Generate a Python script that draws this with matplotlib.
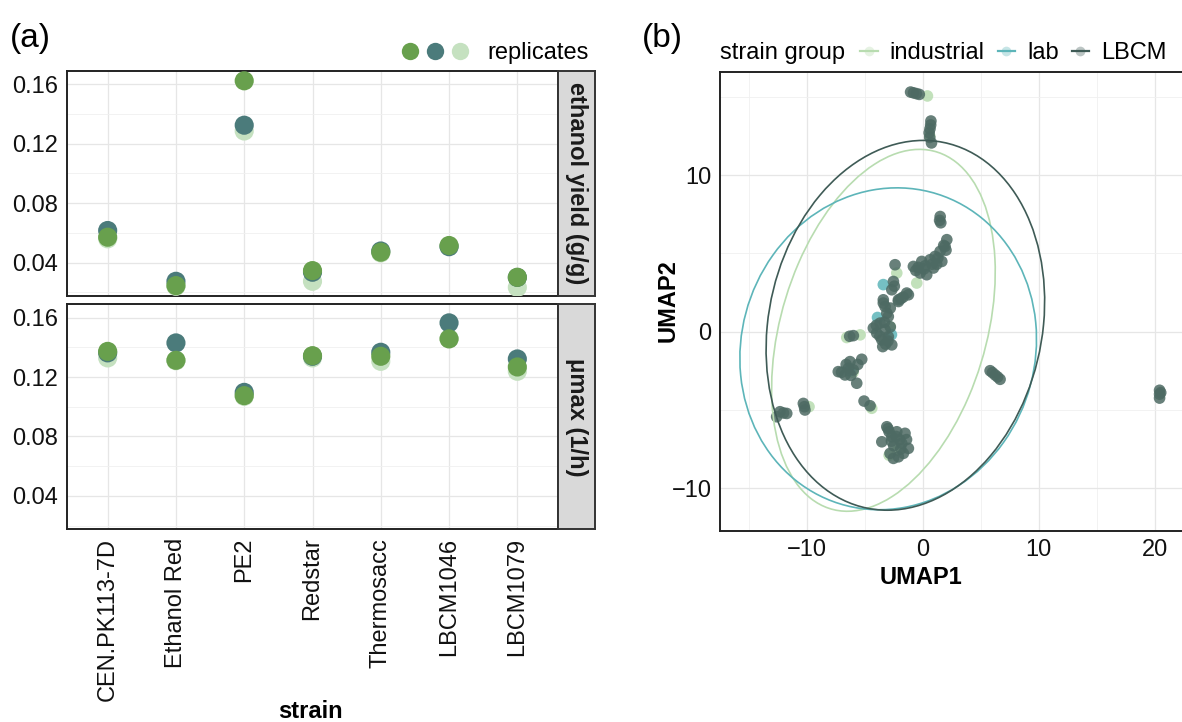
import numpy as np
import matplotlib
matplotlib.use('Agg')
import matplotlib.pyplot as plt
from matplotlib.patches import Ellipse
from matplotlib.lines import Line2D
from matplotlib.ticker import FixedLocator, FormatStrFormatter

plt.rcParams['font.family'] = ['Liberation Sans', 'DejaVu Sans']
plt.rcParams['font.size'] = 17

# ---- panel (a) data ----
strains = ['CEN.PK113-7D', 'Ethanol Red', 'PE2', 'Redstar', 'Thermosacc',
           'LBCM1046', 'LBCM1079']
yield_rep1 = [0.0571, 0.0245, 0.1624, 0.0346, 0.0470, 0.0515, 0.0301]
yield_rep2 = [0.0616, 0.0274, 0.1325, 0.0335, 0.0478, 0.0507, 0.0300]
yield_rep3 = [0.0560, 0.0240, 0.1286, 0.0274, 0.0465, 0.0510, 0.0233]
mumax_rep1 = [0.1373, 0.1313, 0.1075, 0.1344, 0.1340, 0.1457, 0.1268]
mumax_rep2 = [0.1363, 0.1430, 0.1097, 0.1340, 0.1367, 0.1565, 0.1322]
mumax_rep3 = [0.1329, 0.1310, 0.1070, 0.1329, 0.1306, 0.1460, 0.1239]
facet_labels = ['ethanol yield (g/g)', 'μmax (1/h)']
rep_colors = ['#68a04d', '#4b7b7b', '#c5e1c0']

# ---- panel (b) data ----
lbcm_x = [-1.05, -0.8, -0.55, -0.3, 0.7, 0.68, 0.62, 0.55, 0.6, 0.75,
          1.5, 1.45, 1.55, 2.07, 1.92, 2.0, 1.49, 1.06, 0.63, 1.64, 0.92,
          -0.09, -0.81, -0.23, 0.34, -0.4, 0.1, 1.2, 1.8, 1.3, 0.8, 0.2,
          -0.6, -2.39, -2.53, -2.67, -2.45, -1.38, -2.1, -3.4, -3.25, -1.7,
          -3.4, -3.1, -2.1, -1.24, -2.8, -1.9,
          -4.26, -3.68, -3.25, -2.97, -3.53, -2.67, -3.45, -3.97, -2.97,
          -3.3, -4.0, -3.0, -3.7, -2.8, -3.2, -5.98, -6.3,
          -7.28, -6.7, -6.27, -5.98, -5.26, -5.69, -6.41, -6.2, -6.6, -7.0,
          -5.6, -5.06, -4.54, 5.8, 6.0, 6.23, 6.45, 6.66, 20.4, 20.4,
          20.4, 20.5, -12.3, -11.72, -12.59, -12.0, -10.29, -10.15, -10.2,
          -3.1, -2.24, -1.53, -2.67, -3.53, -1.81, -1.24, -2.82, -2.1, -2.53,
          -1.67, -2.9, -2.0, -2.5, -1.4, -3.0, -2.3, -1.9, -2.7]
lbcm_y = [15.3, 15.25, 15.2, 15.15, 13.45, 13.2, 12.95, 12.7, 12.4, 12.05,
          7.35, 7.1, 6.95, 5.87, 5.44, 5.2, 5.12, 4.8, 4.59, 4.48, 4.06,
          4.48, 4.16, 3.74, 3.63, 4.1, 4.0, 4.3, 5.5, 4.7, 4.3, 4.2,
          3.9, 4.27, 3.2, 2.67, 2.9, 2.46, 2.03, 2.03, 1.6, 2.2,
          1.82, 1.18, 1.92, 2.35, 1.5, 2.1,
          0.22, 0.54, 0.11, -0.32, -0.53, -0.85, -0.96, -0.1, 0.96,
          0.6, 0.4, -0.6, -0.3, 0.3, -0.8, -0.26, -0.3,
          -2.56, -2.77, -1.92, -2.45, -1.77, -3.3, -2.34, -2.8, -2.1, -2.6,
          -2.1, -4.44, -4.74, -2.5, -2.62, -2.77, -2.9, -3.05, -3.75, -4.0,
          -4.25, -3.9, -5.12, -5.23, -5.44, -5.2, -4.59, -5.01, -4.8,
          -6.08, -6.4, -6.5, -6.72, -7.04, -7.14, -7.46, -7.78, -8.0, -8.1,
          -7.78, -6.4, -6.9, -7.3, -6.9, -6.2, -6.7, -7.5, -7.0]
ind_x = [0.4, 0.6, -2.24, -0.52, -6.55, -5.4, -4.4, -9.8, -2.8, -6.0,
         -2.2, -2.9]
ind_y = [15.05, 12.5, 3.74, 3.1, -0.38, -0.21, -4.9, -4.8, 0.3, -2.6,
         -7.6, -7.9]
lab_x = [-3.9, -6.3, -2.7, -3.4]
lab_y = [0.9, -2.5, -0.2, 3.0]

groups = ['industrial', 'lab', 'LBCM']
group_colors = ['#b8dcb0', '#5db5b9', '#3f5b56']
point_colors = ['#b8dcb0', '#5db5b9', '#4d6a63']
ell_cx = [-3.39, -2.98, -1.5]
ell_cy = [0.08, -1.1, 0.4]
ell_a = [12.43, 12.82, 12.66]
ell_b = [8.48, 10.23, 11.1]
ell_angle = [59.8, 7.6, 41.5]

W, H = 1182, 722
fig = plt.figure(figsize=(W / 100, H / 100), dpi=100)


def box(l, t, r, b):
    return [l / W, 1 - b / H, (r - l) / W, (b - t) / H]


def style_axes(ax):
    ax.set_facecolor('white')
    ax.tick_params(which='both', length=0, pad=6, colors='#111111',
                   labelsize=17)
    ax.grid(True, which='major', color='#e6e6e6', lw=0.9)
    ax.grid(True, which='minor', color='#f0f0f0', lw=0.6)
    ax.set_axisbelow(True)
    for s in ax.spines.values():
        s.set_color('#222222')
        s.set_linewidth(1.4)


# ---- panel (a) ----
facets = [(yield_rep1, yield_rep2, yield_rep3),
          (mumax_rep1, mumax_rep2, mumax_rep3)]
rows = [(71, 296), (304.3, 529.3)]
x = np.arange(len(strains))
for i, ((r1, r2, r3), (t, b)) in enumerate(zip(facets, rows)):
    ax = fig.add_axes(box(66.7, t, 558.3, b))
    style_axes(ax)
    for vals, c in zip([r3, r2, r1], rep_colors[::-1]):
        ax.scatter(x, vals, s=190, color=c, edgecolors='none', zorder=3)
    ax.set_xlim(-0.6, 6.6)
    ax.set_ylim(0.0175, 0.169)
    ax.yaxis.set_major_locator(FixedLocator([0.04, 0.08, 0.12, 0.16]))
    ax.yaxis.set_minor_locator(FixedLocator([0.02, 0.06, 0.10, 0.14]))
    ax.yaxis.set_major_formatter(FormatStrFormatter('%.2f'))
    ax.set_xticks(x)
    if i == 1:
        ax.set_xticklabels(strains, rotation=90)
    else:
        ax.set_xticklabels([])
    # facet strip
    sax = fig.add_axes(box(558.3, t, 595, b))
    sax.set_facecolor('#d9d9d9')
    sax.set_xticks([])
    sax.set_yticks([])
    for s in sax.spines.values():
        s.set_color('#333333')
        s.set_linewidth(1.4)
    sax.text(0.5, 0.5, facet_labels[i], rotation=270, ha='center',
             va='center', fontsize=17, fontweight='bold', color='#1a1a1a',
             transform=sax.transAxes)

fig.text(310 / W, 1 - 711 / H, 'strain', ha='center', va='center',
         fontweight='bold', fontsize=17)
rep_handles = [Line2D([], [], ls='none', marker='o', markersize=12.5,
                      markerfacecolor=c, markeredgecolor='none')
               for c in rep_colors]
fig.legend(rep_handles, ['', '', ''], ncol=3, frameon=False,
           handlelength=0.8, handletextpad=0, columnspacing=0.25,
           borderpad=0, borderaxespad=0, loc='center left',
           bbox_to_anchor=(401 / W, 1 - 53 / H))
fig.text(487 / W, 1 - 53 / H, 'replicates', ha='left', va='center',
         fontsize=17)
fig.text(10 / W, 1 - 38 / H, '(a)', ha='left', va='center', fontsize=24)

# ---- panel (b) ----
bx = fig.add_axes(box(720, 71.7, 1206, 530.7))
style_axes(bx)
bx.spines['right'].set_visible(False)
pts = [(ind_x, ind_y), (lab_x, lab_y), (lbcm_x, lbcm_y)]
for (px, py), c in zip(pts, point_colors):
    bx.scatter(px, py, s=70, color=c, alpha=0.85, edgecolors='none',
               zorder=3)
for k in range(3):
    bx.add_patch(Ellipse((ell_cx[k], ell_cy[k]), 2 * ell_a[k], 2 * ell_b[k],
                         angle=ell_angle[k], fill=False,
                         edgecolor=group_colors[k], lw=1.2, zorder=4))
bx.set_xlim(-17.47, 24.4)
bx.set_ylim(-12.72, 16.6)
bx.xaxis.set_major_locator(FixedLocator([-10, 0, 10, 20]))
bx.xaxis.set_minor_locator(FixedLocator([-15, -5, 5, 15]))
bx.yaxis.set_major_locator(FixedLocator([-10, 0, 10]))
bx.yaxis.set_minor_locator(FixedLocator([-5, 5, 15]))

fig.text(668 / W, 1 - 301 / H, 'UMAP2', rotation=90, ha='center',
         va='center', fontweight='bold', fontsize=17)
fig.text(921 / W, 1 - 577 / H, 'UMAP1', ha='center', va='center',
         fontweight='bold', fontsize=17)
fig.text(642 / W, 1 - 38 / H, '(b)', ha='left', va='center', fontsize=24)

fig.text(720 / W, 1 - 53 / H, 'strain group', ha='left', va='center',
         fontsize=17)
grp_handles = [Line2D([], [], color=c, lw=1.6, marker='o', markersize=7,
                      markerfacecolor=matplotlib.colors.to_rgba(c, 0.35),
                      markeredgecolor='none')
               for c in group_colors]
fig.legend(grp_handles, groups, ncol=3, frameon=False, handlelength=0.75,
           handletextpad=0.5, columnspacing=0.55, borderpad=0,
           borderaxespad=0, loc='center left',
           bbox_to_anchor=(860 / W, 1 - 53 / H))

fig.savefig('out.png', dpi=100, facecolor='white')
